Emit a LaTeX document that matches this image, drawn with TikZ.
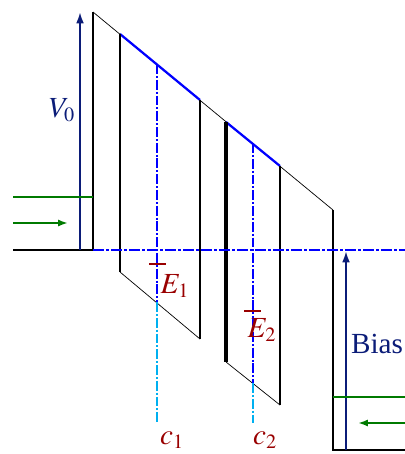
\documentclass[tikz,border=0pt]{standalone}
\usepackage{mathptmx}
\usepackage{fontspec}
\setmainfont{Liberation Serif}
\usepackage{tikz}
\usetikzlibrary{arrows.meta}
\definecolor{biasnavy}{HTML}{0B1C78}
\definecolor{levelred}{HTML}{990000}
\definecolor{fluxgreen}{HTML}{007A00}
\definecolor{tailcyan}{HTML}{00B0F0}
\definecolor{fermiblue}{HTML}{0000FF}

\begin{document}
\begin{tikzpicture}[x=0.025cm, y=-0.025cm,
  barrier/.style={black, line width=2.1pt},
  wall/.style={black, line width=1.4pt},
  slope/.style={black, line width=0.5pt},
  fermi/.style={fermiblue, line width=2pt, dash pattern=on 8pt off 1.4pt on 2pt off 1.4pt},
  wellfield/.style={fermiblue, line width=1.6pt},
  center/.style={fermiblue, line width=1.4pt, dash pattern=on 7pt off 1.4pt on 1.4pt off 1.4pt},
  tail/.style={tailcyan, line width=1.4pt, dash pattern=on 7pt off 1.4pt on 1.4pt off 1.4pt},
  level/.style={levelred, line width=2pt},
  flux/.style={fluxgreen, line width=1.4pt},
  volt/.style={biasnavy, line width=1.4pt, -{Latex[length=8pt, width=5.5pt]}},
  label/.style={font=\huge, inner sep=0pt}]

\useasboundingbox (0,0) rectangle (405,454);

\coordinate (leftend) at (13,250);
\coordinate (leftfoot) at (93,250);
\coordinate (lefttop) at (93,12);
\coordinate (w1tl) at (120,34);
\coordinate (w1bl) at (120,272);
\coordinate (w1tr) at (200,100);
\coordinate (w1br) at (200,339);
\coordinate (w2tl) at (226,122);
\coordinate (w2bl) at (226,362);
\coordinate (w2tr) at (280,166);
\coordinate (w2br) at (280,405);
\coordinate (righttop) at (333,210);
\coordinate (rightfoot) at (333,450);
\coordinate (rightend) at (405,450);
\coordinate (fermiend) at (405,250);

\draw[barrier] (leftend) -- (leftfoot) -- (lefttop);
\draw[slope] (lefttop) -- (righttop);
\draw[wellfield] (w1tl) -- (w1tr);
\draw[wellfield] (w2tl) -- (w2tr);
\draw[wall] (w1tl) -- (w1bl);
\draw[slope] (w1bl) -- (w1br);
\draw[wall] (w1tr) -- (w1br);
\draw[wall, line width=2.4pt] (w2tl) -- (w2bl);
\draw[slope] (w2bl) -- (w2br);
\draw[wall] (w2tr) -- (w2br);
\draw[wall] (righttop) -- (rightfoot) -- (rightend);

\draw[fermi] (leftfoot) -- (fermiend);

\coordinate (c1top) at (157,64);
\coordinate (c1mid) at (157,302);
\coordinate (c1end) at (157,423);
\coordinate (c2top) at (253,143);
\coordinate (c2mid) at (253,383);
\coordinate (c2end) at (253,423);
\draw[center] (c1top) -- (c1mid);
\draw[tail] (c1mid) -- (c1end);
\draw[center] (c2top) -- (c2mid);
\draw[tail] (c2mid) -- (c2end);
\node[label, text=levelred] (c1lab) at (172,440) {$c_1$};
\node[label, text=levelred] (c2lab) at (265,440) {$c_2$};

\coordinate (e1a) at (149,264);
\coordinate (e1b) at (166,264);
\coordinate (e2a) at (244,311);
\coordinate (e2b) at (261,311);
\draw[level] (e1a) -- (e1b);
\draw[level] (e2a) -- (e2b);
\node[label, text=levelred] (e1lab) at (175,286) {$E_1$};
\node[label, text=levelred] (e2lab) at (262,330) {$E_2$};

\coordinate (v0foot) at (80,250);
\coordinate (v0top) at (80,12);
\draw[volt] (v0foot) -- (v0top);
\node[label, text=biasnavy] (v0lab) at (62,110) {$V_0$};

\coordinate (biasfoot) at (346,450);
\coordinate (biastop) at (346,251);
\draw[volt] (biasfoot) -- (biastop);
\node[label, text=biasnavy] (biaslab) at (377,344) {Bias};

\coordinate (inleft) at (13,197);
\coordinate (inright) at (93,197);
\coordinate (instart) at (13,223);
\coordinate (intip) at (68,223);
\draw[flux] (inleft) -- (inright);
\draw[flux, -{Latex[length=7pt, width=5pt]}] (instart) -- (intip);

\coordinate (outleft) at (333,397);
\coordinate (outright) at (405,397);
\coordinate (outstart) at (405,423);
\coordinate (outtip) at (358,423);
\draw[flux] (outleft) -- (outright);
\draw[flux, -{Latex[length=7pt, width=5pt]}] (outstart) -- (outtip);
\end{tikzpicture}
\end{document}
